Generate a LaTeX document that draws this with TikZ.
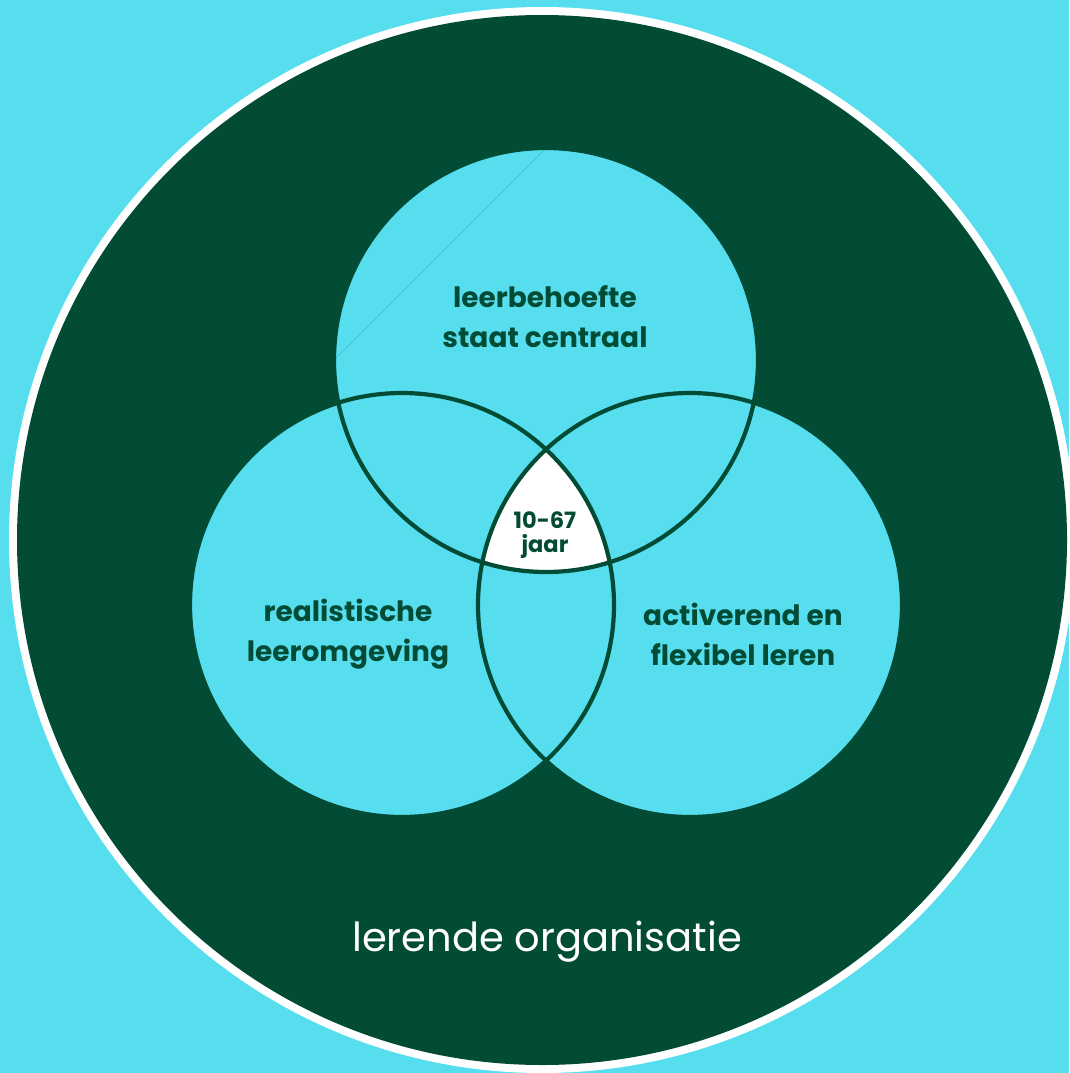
\documentclass[tikz,border=0pt]{standalone}
\usepackage{fontspec}
\setmainfont{Poppins}
\definecolor{bgcyan}{HTML}{56DEEF}
\definecolor{dkgreen}{HTML}{024C36}
\definecolor{chord}{HTML}{3FC3D6}
\tikzset{
  venn/.style={circle, minimum size=424pt, inner sep=0pt, fill=bgcyan},
  vennline/.style={draw=dkgreen, line width=4.2pt},
  lbl/.style={text=dkgreen, align=center, font=\bfseries\fontsize{28}{40}\selectfont},
  lblsmall/.style={text=dkgreen, align=center, font=\bfseries\fontsize{22.5}{24}\selectfont},
  outerlbl/.style={text=white, font=\fontsize{40}{44}\selectfont}
}
\begin{document}
\begin{tikzpicture}[x=1pt,y=-1pt]
\useasboundingbox (0,0) rectangle (1069,1073);
\clip (0,0) rectangle (1069,1073);
\fill[bgcyan] (0,0) rectangle (1069,1073);
% outer organisation circle
\coordinate (org) at (542,540);
\fill[white] (org) circle [radius=533pt];
\fill[dkgreen] (org) circle [radius=525pt];
% three circles
\node[venn] (ctop) at (546,360) {};
\node[venn] (cleft) at (402,605) {};
\node[venn] (cright) at (690,605) {};
% central intersection
\begin{scope}
  \clip (ctop.center) circle [radius=212pt];
  \clip (cleft.center) circle [radius=212pt];
  \fill[white] (cright.center) circle [radius=212pt];
\end{scope}
% faint chord
\draw[chord, line width=0.7pt] (ctop.north) -- (ctop.west);
% outlines
\draw[vennline] (ctop.center) circle [radius=212pt];
\draw[vennline] (cleft.center) circle [radius=212pt];
\draw[vennline] (cright.center) circle [radius=212pt];
% labels
\node[lbl] (ltop) at (545,317) {leerbehoefte\\staat centraal};
\node[lbl] (lleft) at (348,634) {realistische\\leeromgeving};
\node[lbl] (lright) at (743,634) {activerend en\\flexibel leren};
\node[lblsmall] (lmid) at (545,535) {10-67\\jaar};
\node[outerlbl] (lorg) at (547,942) {lerende organisatie};
\end{tikzpicture}
\end{document}
